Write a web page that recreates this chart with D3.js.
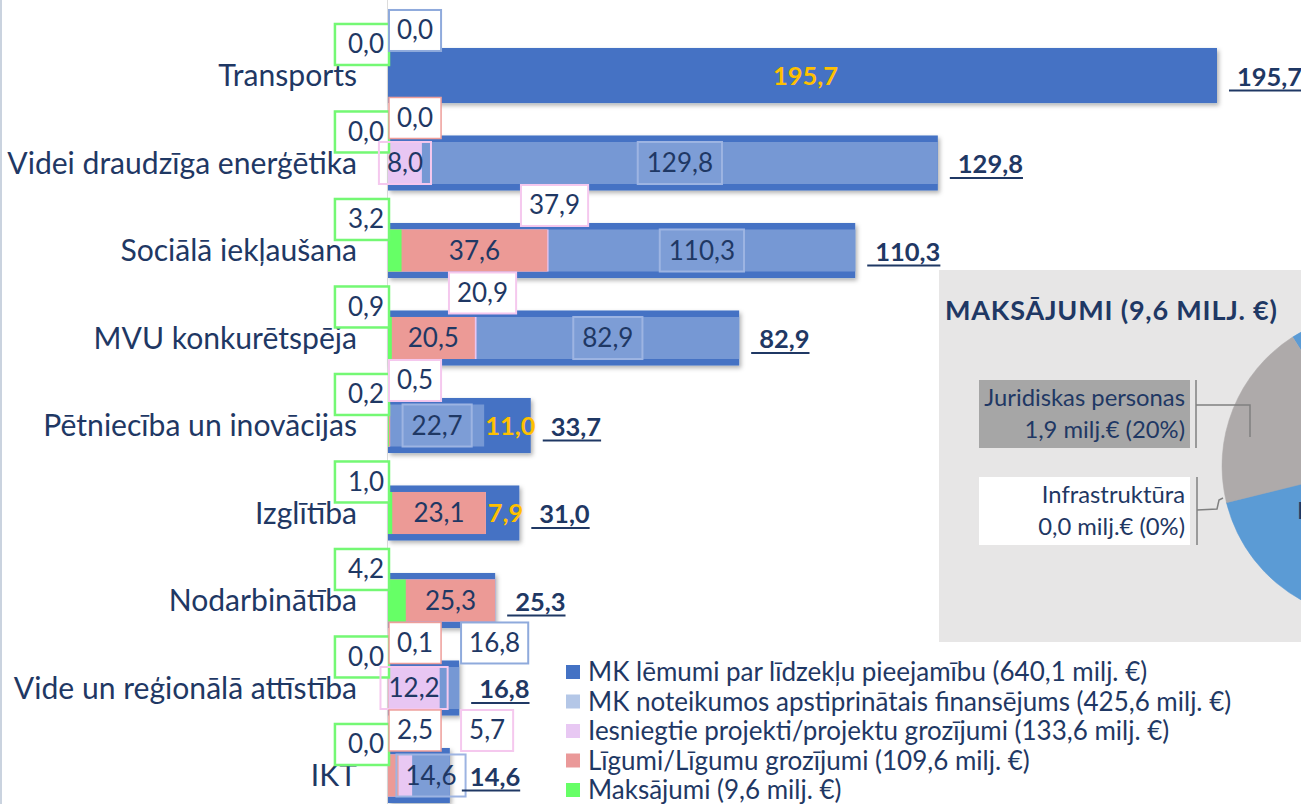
<!DOCTYPE html>
<html><head><meta charset="utf-8">
<script src="https://cdn.jsdelivr.net/npm/d3@7"></script>
<style>
html,body{margin:0;padding:0;background:#fff;}
svg{display:block;}
text{font-family:Lato,"Open Sans",sans-serif;}
</style></head><body>
<svg id="chart" width="1301" height="804"></svg>
<script>
// ---------- DATA ----------
const categories = ["Transports","Videi draudzīga enerģētika","Sociālā iekļaušana","MVU konkurētspēja","Pētniecība un inovācijas","Izglītība","Nodarbinātība","Vide un reģionālā attīstība","IKT"];
const mkLemumi    = [195.7,129.8,110.3,82.9,33.7,31.0,25.3,16.8,14.6];
const mkNoteikumi = [0.0,129.8,110.3,82.9,22.7,23.1,25.3,16.8,14.6];
const iesniegtie  = [0.0,8.0,37.9,20.9,0.5,23.1,25.3,12.2,5.7];
const ligumi      = [0.0,0.0,37.6,20.5,0.5,23.1,25.3,0.1,2.5];
const maksajumi   = [0.0,0.0,3.2,0.9,0.2,1.0,4.2,0.0,0.0];
const legendLabels = ["MK lēmumi par līdzekļu pieejamību (640,1 milj. €)","MK noteikumos apstiprinātais finansējums (425,6 milj. €)","Iesniegtie projekti/projektu grozījumi (133,6 milj. €)","Līgumi/Līgumu grozījumi (109,6 milj. €)","Maksājumi (9,6 milj. €)"];
const pieTitle = "MAKSĀJUMI (9,6 MILJ. €)";
const pieLabels = ["Fiziskas personas","Infrastruktūra","Juridiskas personas"];
const pieValues = [7.7,0.0,1.9];
const piePercents = ["80%","0%","20%"];

// ---------- LAYOUT / STYLE ----------
const labelMode = {
  light: ["above","in","in","in","in",null,null,"above","in"],
  pink:  [null,"in","above","above","above",null,null,"in","above"],
  red:   [null,"above","in","in",null,"in","in","above","above"]
};
const NAVY = "#1F3864";
const COL = {dark:"#4472C4", light:"#7698D4", pink:"#E8C6F3", red:"#EC9A96", green:"#66FF66"};
const legendColors = ["#4472C4","#B4C7E7","#E8C8F3","#EA9999","#66FF66"];
const pieColors = ["#5B9BD5","#5B9BD5","#AEAAAA"];
const FS = {cat:30.1, val:26, tot:25.5, leg:26, title:27, pie:23.8};

const svg = d3.select("#chart");
const fmt = v => d3.format(".1f")(v).replace(".", ",");

const defs = svg.append("defs");
const f = defs.append("filter").attr("id","sh").attr("x","-5%").attr("y","-20%").attr("width","115%").attr("height","150%");
f.append("feDropShadow").attr("dx",2).attr("dy",2.5).attr("stdDeviation",2).attr("flood-color","#000").attr("flood-opacity",0.3);

// left border
svg.append("line").attr("x1",1).attr("x2",1).attr("y1",0).attr("y2",804).attr("stroke","#CAD3DF").attr("stroke-width",2);

const axisX = 388;
const x = d3.scaleLinear().domain([0,200]).range([axisX, axisX + 200*4.236]);
const y = d3.scaleBand().domain(categories).range([31.75, 819.25]).paddingInner(0.371).paddingOuter(0.1855);
const bw = y.bandwidth();
const inset = 6.5, ih = bw - 2*inset;

// baseline axis line
svg.append("line").attr("x1",axisX-0.5).attr("x2",axisX-0.5).attr("y1",0).attr("y2",804).attr("stroke","#DCDCDC").attr("stroke-width",1);

// ---------- BARS ----------
const layers = [
  {vals:mkLemumi, color:COL.dark, ins:0, shadow:true},
  {vals:mkNoteikumi, color:COL.light, ins:inset},
  {vals:iesniegtie, color:COL.pink, ins:inset},
  {vals:ligumi, color:COL.red, ins:inset},
  {vals:maksajumi, color:COL.green, ins:inset}
];
layers.forEach(L => {
  svg.append("g").selectAll("rect").data(categories).join("rect")
    .attr("x", x(0))
    .attr("y", c => y(c) + L.ins)
    .attr("width", (c,i) => Math.max(0, x(L.vals[i]) - x(0)))
    .attr("height", bw - 2*L.ins)
    .attr("fill", L.color)
    .attr("filter", L.shadow ? "url(#sh)" : null);
});

// ---------- CATEGORY AXIS ----------
const ax = svg.append("g").attr("transform",`translate(${axisX},0)`)
  .call(d3.axisLeft(y).tickSize(0).tickPadding(31));
ax.select(".domain").remove();
ax.selectAll("text").attr("fill",NAVY).style("font-size",FS.cat+"px").style("font-family","Lato").attr("dy",null)
  .attr("dominant-baseline","auto").attr("y",10.5);

// ---------- LABELS ----------
const lg = svg.append("g");
function txt(str, xx, yy, o={}) {
  return lg.append("text").text(str).attr("x",xx).attr("y",yy)
    .attr("text-anchor", o.anchor || "middle")
    .attr("fill", o.color || NAVY)
    .attr("font-weight", o.bold ? 700 : 400)
    .style("font-size", (o.size || FS.val) + "px");
}
function boxLabel(str, left, top, w, h, o) {
  lg.append("rect").attr("x",left).attr("y",top).attr("width",w).attr("height",h)
    .attr("fill",o.fill || "none").attr("stroke",o.stroke).attr("stroke-width",o.sw || 2);
  const anchorX = o.align === "end" ? left + w - 5 : left + w/2;
  txt(str, anchorX, top + h/2 + 9, {anchor: o.align === "end" ? "end" : "middle"});
}
function tw(str, size, bold) {
  const t = lg.append("text").text(str).style("font-size",size+"px").attr("font-weight",bold?700:400);
  const w = t.node().getComputedTextLength(); t.remove(); return w;
}

categories.forEach((c,i) => {
  const top = y(c), cy = top + bw/2;
  const g0 = maksajumi[i], r0 = ligumi[i], p0 = iesniegtie[i], l0 = mkNoteikumi[i], d0 = mkLemumi[i];

  // green (Maksājumi) boxes left of axis
  const gw = Math.max(53, tw(fmt(g0), FS.val) + 18);
  boxLabel(fmt(g0), axisX + 1 - gw, top - 24, gw, 41, {stroke:"#74F874", sw:2.5, fill:"#fff", align:"end"});

  // red inside
  if (labelMode.red[i] === "in") {
    txt(fmt(r0), (x(g0) + x(r0))/2, cy + 9);
  }
  // pink inside
  if (labelMode.pink[i] === "in") {
    const a = x(Math.max(r0,g0)), b = x(p0), w = tw(fmt(p0), FS.val) + 16;
    boxLabel(fmt(p0), (a+b)/2 - w/2, top + inset, w, ih, {stroke:"#F5C8EE", sw:2});
  }
  // light inside
  if (labelMode.light[i] === "in") {
    const a = x(Math.max(p0,r0,g0)), b = x(l0), w = tw(fmt(l0), FS.val) + 18;
    boxLabel(fmt(l0), (a+b)/2 - w/2, top + inset, w, ih, {stroke:"#9DB4E2", sw:2, fill:"rgba(255,255,255,0.05)"});
  }
  // yellow difference label
  if (d0 - l0 > 0.05) {
    const a = x(Math.max(l0,p0,r0,g0)), b = x(d0);
    txt(fmt(d0 - l0), (a+b)/2 + 3, cy + 9, {bold:true, color:"#FFC000", size:FS.tot});
  }
  // above labels, laid out left to right
  let prevRight = null;
  [["red",ligumi,"#EE9E9A",1.5],["pink",iesniegtie,"#F5C8EE",2],["light",mkNoteikumi,"#8FAADC",2]].forEach(([k,vals,stroke,sw]) => {
    if (labelMode[k][i] !== "above") return;
    const s = fmt(vals[i]), w = tw(s, FS.val) + 16;
    let left = Math.max(x(vals[i]) - w/2 + 6, axisX + 1);
    if (prevRight !== null) left = Math.max(left, prevRight + 20);
    boxLabel(s, left, top + 3 - 41, w, 41, {stroke, sw, fill:"#fff"});
    prevRight = left + w;
  });

  // totals
  const tx = x(d0) + 20;
  const t = txt(fmt(d0), tx, cy + 10, {anchor:"start", bold:true, size:FS.tot});
  const tl = t.node().getComputedTextLength();
  lg.append("line").attr("x1", x(d0) + 12).attr("x2", tx + tl).attr("y1", cy + 15).attr("y2", cy + 15)
    .attr("stroke", NAVY).attr("stroke-width", 2);
});

// ---------- LEGEND ----------
const leg = svg.append("g");
legendLabels.forEach((s,i) => {
  const ly = 672 + i*29.5;
  leg.append("rect").attr("x",566).attr("y",ly-7).attr("width",14).attr("height",14).attr("fill",legendColors[i]);
  leg.append("text").text(s).attr("x",588).attr("y",ly+9).attr("fill",NAVY).style("font-size",FS.leg+"px");
});

// ---------- PIE INSET ----------
const pg = svg.append("g");
pg.append("rect").attr("x",939).attr("y",270).attr("width",400).attr("height",372).attr("fill","#E7E6E6");
pg.append("text").text(pieTitle).attr("x",945).attr("y",320).attr("fill",NAVY).attr("font-weight",700)
  .style("font-size",FS.title+"px").style("letter-spacing","0.8px");
const a0 = 327.4*Math.PI/180;
const pie = d3.pie().sort(null).startAngle(a0).endAngle(a0 + 2*Math.PI);
const arc = d3.arc().innerRadius(0).outerRadius(153);
const pc = pg.append("g").attr("transform","translate(1375,466)");
pc.selectAll("path").data(pie(pieValues)).join("path")
  .attr("d", arc).attr("fill",(d,i)=>pieColors[i]).attr("stroke",(d,i)=>pieColors[i]).attr("stroke-width",(d,i)=>d.value===0?1.5:0.5);

// labels
function pieLabel(i, top, fill) {
  pg.append("rect").attr("x",979).attr("y",top).attr("width",211).attr("height",68).attr("fill",fill);
  const mil = fmt(pieValues[i]) + " milj.€ (" + piePercents[i] + ")";
  pg.append("text").text(pieLabels[i]).attr("x",1185).attr("y",top+26).attr("text-anchor","end").attr("fill",NAVY).style("font-size",FS.pie+"px");
  pg.append("text").text(mil).attr("x",1185).attr("y",top+58).attr("text-anchor","end").attr("fill",NAVY).style("font-size",FS.pie+"px");
}
pieLabel(2, 380, "#A6A6A6");
pieLabel(1, 477, "#FFFFFF");
const lead = {stroke:"#808080", w:1.5};
pg.append("line").attr("x1",1196).attr("x2",1196).attr("y1",380).attr("y2",448).attr("stroke",lead.stroke).attr("stroke-width",lead.w);
pg.append("path").attr("d","M1196,405 L1250,405 L1250,437").attr("fill","none").attr("stroke",lead.stroke).attr("stroke-width",lead.w);
pg.append("line").attr("x1",1197).attr("x2",1197).attr("y1",477).attr("y2",545).attr("stroke",lead.stroke).attr("stroke-width",lead.w);
pg.append("path").attr("d","M1197,510 L1217,509 L1219,500 L1223,498").attr("fill","none").attr("stroke",lead.stroke).attr("stroke-width",lead.w);
pg.append("text").text(pieLabels[0]).attr("x",1297).attr("y",519).attr("fill",NAVY).style("font-size",FS.pie+"px");
</script>
</body></html>
